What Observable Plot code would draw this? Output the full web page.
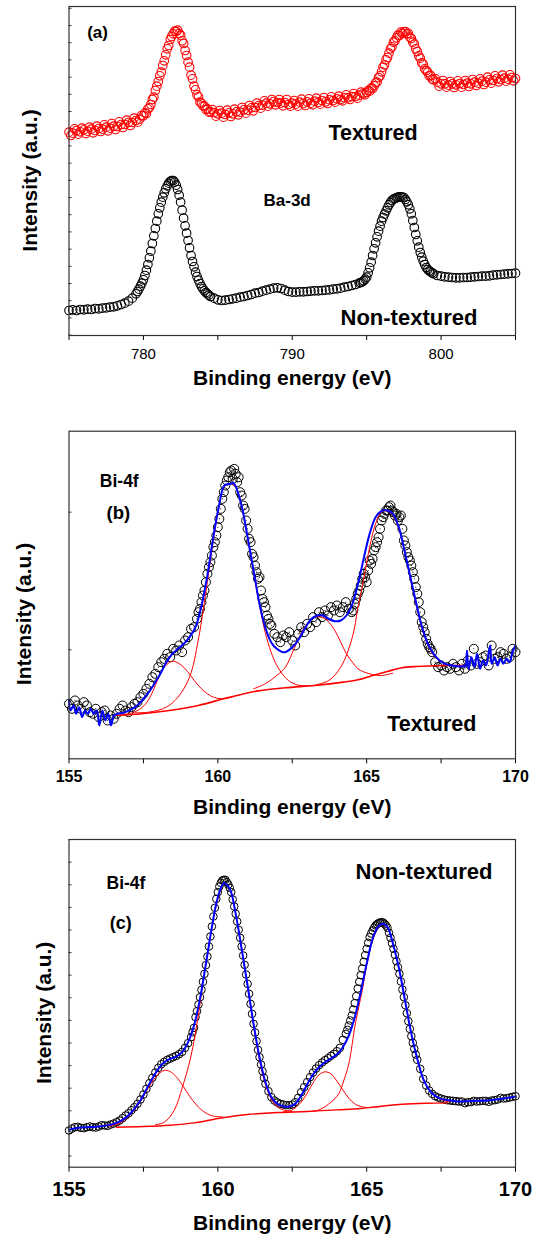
<!DOCTYPE html>
<html><head><meta charset="utf-8">
<script src="https://cdn.jsdelivr.net/npm/d3@7"></script>
<script src="https://cdn.jsdelivr.net/npm/@observablehq/plot@0.6"></script>
<style>
html,body{margin:0;padding:0;background:#fff;}
#chart{position:relative;width:536px;height:1238px;overflow:hidden;}
.panel{position:absolute;left:0;width:536px;}
.panel svg{overflow:visible;display:block;}
</style></head><body><div id="chart"></div>
<script>
// ================= Panel (a): Ba-3d  [energy (eV), intensity (a.u.)] =================
const aNonTextured = [
[775,75],[775.25,77],[775.5,75],[775.75,78],[776,77],[776.25,79],[776.5,78],[776.75,81],[777,80],[777.25,82],[777.5,83],[777.75,85],[778,86],[778.25,89],[778.5,93],[778.75,97],[779,103],[779.25,112],
[779.5,125],[779.6,132],[779.7,139],[779.8,148],[779.9,157],[780,167],[780.1,180],[780.2,196],[780.3,213],[780.4,233],[780.5,253],[780.6,276],[780.7,299],[780.8,321],[780.9,343],[781,365],[781.1,383],[781.2,400],[781.3,415],[781.4,428],[781.5,440],[781.6,449],[781.7,457],[781.8,462],[781.9,465],[782,465],[782.1,460],[782.2,451],[782.3,438],[782.4,421],[782.5,400],[782.6,376],[782.7,352],[782.8,329],[782.9,307],[783,285],[783.1,263],[783.2,240],[783.3,222],[783.4,206],[783.5,190],[783.6,177],[783.7,166],[783.8,156],[783.9,147],[784,140],[784.1,134],[784.2,129],[784.3,125],[784.4,121],[784.5,117],
[784.75,112],[785,107],[785.25,105],[785.5,106],[785.75,108],[786,110],[786.25,112],[786.5,115],[786.75,117],[787,120],[787.25,123],[787.5,127],[787.75,129],[788,133],[788.25,136],[788.5,139],[788.75,142],[789,143],[789.25,141],[789.5,136],[789.75,132],[790,130],[790.25,130],[790.5,131],[790.75,131],[791,132],[791.25,133],[791.5,134],[791.75,134],[792,135],[792.25,136],[792.5,137],[792.75,139],[793,140],[793.25,142],[793.5,145],[793.75,147],[794,150],[794.25,153],[794.5,157],
[794.6,159],[794.7,161],[794.8,164],[794.9,169],[795,175],[795.1,188],[795.2,203],[795.3,220],[795.4,240],[795.5,260],[795.6,278],[795.7,296],[795.8,313],[795.9,328],[796,343],[796.1,354],[796.2,364],[796.3,374],[796.4,383],[796.5,392],[796.6,399],[796.7,405],[796.8,409],[796.9,411],[797,413],[797.1,415],[797.2,416],[797.3,416],[797.4,415],[797.5,414],[797.6,408],[797.7,401],[797.8,392],[797.9,380],[798,365],[798.1,345],[798.2,324],[798.3,303],[798.4,284],[798.5,265],[798.6,249],[798.7,235],[798.8,223],[798.9,213],[799,204],[799.1,198],[799.2,194],[799.3,191],[799.4,188],[799.5,185],
[799.75,180],[800,178],[800.25,176],[800.5,175],[800.75,174],[801,173],[801.25,173],[801.5,174],[801.75,174],[802,175],[802.25,176],[802.5,177],[802.75,178],[803,178],[803.25,179],[803.5,181],[803.75,182],[804,183],[804.25,184],[804.5,185],[804.75,186],[805,187]];
const aTextured = [
[775,610],[775.125,600],[775.25,607],[775.375,620],[775.5,615],[775.625,604],[775.75,611],[775.875,622],[776,617],[776.125,606],[776.25,613],[776.375,625],[776.5,619],[776.625,608],[776.75,615],[776.875,628],[777,621],[777.125,612],[777.25,619],[777.375,632],[777.5,625],[777.625,614],[777.75,622],[777.875,636],[778,628],[778.125,618],[778.25,627],[778.375,641],[778.5,633],[778.625,624],[778.75,633],[778.875,646],[779,639],[779.125,630],[779.25,639],[779.375,652],[779.5,645],[779.625,640],[779.75,649],[779.875,660],
[780,659],[780.1,668],[780.2,666],[780.3,680],[780.4,683],[780.5,693],[780.6,708],[780.7,715],[780.8,735],[780.9,748],[781,762],[781.1,779],[781.2,790],[781.3,810],[781.4,824],[781.5,842],[781.6,860],[781.7,870],[781.8,888],[781.9,897],[782,905],[782.1,913],[782.2,912],[782.3,916],[782.4,906],[782.5,901],[782.6,884],[782.7,876],[782.8,855],[782.9,840],[783,820],[783.1,805],[783.2,781],[783.3,770],[783.4,748],[783.5,737],[783.6,722],[783.7,716],[783.8,700],[783.9,697],[784,689],[784.1,688],[784.2,678],[784.3,680],[784.4,670],[784.5,671],
[784.625,678],[784.75,669],[784.875,658],[785,665],[785.125,675],[785.25,667],[785.375,655],[785.5,663],[785.625,676],[785.75,668],[785.875,657],[786,665],[786.125,679],[786.25,671],[786.375,662],[786.5,670],[786.625,684],[786.75,677],[786.875,667],[787,676],[787.125,690],[787.25,683],[787.375,674],[787.5,684],[787.625,697],[787.75,690],[787.875,682],[788,691],[788.125,704],[788.25,697],[788.375,688],[788.5,695],[788.625,708],[788.75,702],[788.875,692],[789,699],[789.125,708],[789.25,697],[789.375,689],[789.5,699],[789.625,708],[789.75,693],[789.875,688],
[790,697],[790.125,705],[790.25,694],[790.375,688],[790.5,700],[790.625,709],[790.75,696],[790.875,690],[791,701],[791.125,710],[791.25,697],[791.375,692],[791.5,703],[791.625,712],[791.75,699],[791.875,694],[792,705],[792.125,714],[792.25,701],[792.375,696],[792.5,707],[792.625,716],[792.75,705],[792.875,700],[793,710],[793.125,718],[793.25,708],[793.375,704],[793.5,713],[793.625,722],[793.75,713],[793.875,708],[794,717],[794.125,726],[794.25,717],[794.375,712],[794.5,721],[794.625,730],[794.75,725],[794.875,722],
[795,729],[795.1,735],[795.2,733],[795.3,742],[795.4,741],[795.5,749],[795.6,758],[795.7,760],[795.8,774],[795.9,779],[796,791],[796.1,805],[796.2,812],[796.3,827],[796.4,834],[796.5,847],[796.6,860],[796.7,866],[796.8,880],[796.9,884],[797,893],[797.1,901],[797.2,900],[797.3,910],[797.4,906],[797.5,911],[797.6,912],[797.7,905],[797.8,906],[797.9,895],[798,891],[798.1,880],[798.2,874],[798.3,860],[798.4,852],[798.5,839],[798.6,832],[798.7,818],[798.8,814],[798.9,800],[799,795],[799.1,790],[799.2,779],[799.3,780],[799.4,769],[799.5,767],
[799.625,770],[799.75,760],[799.875,748],[800,755],[800.125,765],[800.25,755],[800.375,745],[800.5,751],[800.625,762],[800.75,755],[800.875,744],[801,752],[801.125,764],[801.25,756],[801.375,745],[801.5,753],[801.625,765],[801.75,757],[801.875,747],[802,755],[802.125,768],[802.25,760],[802.375,750],[802.5,757],[802.625,770],[802.75,763],[802.875,753],[803,760],[803.125,775],[803.25,767],[803.375,757],[803.5,765],[803.625,779],[803.75,771],[803.875,761],[804,768],[804.125,781],[804.25,772],[804.375,763],[804.5,769],[804.625,782],[804.75,774],[804.875,764],[805,771]];
const aTickMajor = [780, 790, 800];
const aTickMinor = [775, 785, 795, 805];

// ================= Panel (b): Bi-4f, textured =================
const bData = [
[155,165],[155.1,150],[155.2,175],[155.3,160],[155.4,150],[155.5,170],[155.6,160],[155.7,140],[155.8,135],[155.9,150],[156,125],[156.1,140],[156.2,145],[156.3,115],[156.4,130],[156.5,120],[156.6,135],[156.7,150],[156.8,160],[156.9,145],
[157,140],[157.1,155],[157.2,165],[157.3,170],[157.4,185],[157.5,195],[157.6,210],[157.7,225],[157.8,245],[157.9,255],[158,275],[158.1,290],[158.2,300],[158.3,315],[158.4,305],[158.5,330],[158.6,325],[158.7,340],[158.8,320],[158.9,355],[159,365],[159.1,390],[159.2,395],[159.3,420],
[159.35,440],[159.4,450],[159.45,470],[159.5,490],[159.55,505],[159.6,530],[159.65,555],[159.7,575],[159.75,590],[159.8,610],[159.85,635],[159.9,650],[159.95,670],[160,695],[160.05,720],[160.1,750],[160.15,780],[160.2,800],[160.25,820],[160.3,835],[160.35,845],[160.4,860],[160.45,865],[160.5,840],[160.55,870],[160.6,855],[160.65,830],[160.7,845],[160.75,800],[160.8,790],[160.85,760],[160.9,750],[160.95,715],[161,690],[161.05,660],[161.1,650],[161.15,615],[161.2,605],[161.25,580],[161.3,560],[161.35,540],[161.4,545],[161.45,505],[161.5,480],[161.55,470],[161.6,455],[161.65,430],[161.7,420],[161.75,405],[161.8,400],
[161.9,375],[162,365],[162.1,350],[162.2,370],[162.3,365],[162.4,380],[162.5,355],[162.6,340],[162.7,375],[162.8,395],[162.9,380],[163,405],[163.1,395],[163.2,425],[163.3,410],[163.4,440],[163.5,425],[163.6,445],[163.7,430],[163.8,455],[163.9,445],[164,460],[164.1,440],[164.2,455],[164.3,470],[164.4,450],[164.5,440],
[164.55,445],[164.6,465],[164.65,480],[164.7,495],[164.75,505],[164.8,520],[164.85,540],[164.9,555],[164.95,545],[165,530],[165.05,565],[165.1,595],[165.15,585],[165.2,600],[165.25,625],[165.3,635],[165.35,650],[165.4,665],[165.45,690],[165.5,715],[165.55,725],[165.6,735],[165.65,745],[165.7,745],[165.75,755],[165.8,760],[165.85,745],[165.9,740],[165.95,730],[166,735],[166.05,715],[166.1,725],[166.15,730],[166.2,690],[166.25,655],[166.3,640],[166.35,620],[166.4,605],[166.45,595],[166.5,580],[166.55,560],[166.6,540],[166.65,515],[166.7,495],[166.75,470],[166.8,440],[166.85,410],[166.9,395],[166.95,380],[167,360],[167.05,345],[167.1,335],[167.15,330],[167.2,320],
[167.3,290],[167.4,275],[167.5,280],[167.6,265],[167.7,275],[167.8,270],[167.9,285],[168,275],[168.1,265],[168.2,285],[168.3,270],[168.4,295],[168.5,280],[168.6,330],[168.7,285],[168.8,290],[168.9,305],[169,310],[169.1,280],[169.2,340],[169.3,300],[169.4,305],[169.5,320],[169.6,315],[169.7,300],[169.8,305],[169.9,330],[170,320]];
const bFit = [
[155,175],[155.05,145],[155.15,160],[155.24,135],[155.34,155],[155.44,125],[155.54,145],[155.63,135],[155.73,150],[155.83,135],[155.93,145],[156.02,100],[156.12,145],[156.22,115],[156.32,135],[156.41,100],[156.51,130],
[156.63,135],[156.9,140],[157.29,160],[157.68,200],[158.07,255],[158.27,290],[158.47,315],[158.66,330],[158.86,345],[159.05,365],[159.25,395],[159.44,455],[159.64,545],[159.83,655],[160.03,755],[160.22,820],[160.42,825],[160.53,827],[160.61,815],[160.81,755],[161,665],[161.2,565],[161.4,465],[161.59,395],[161.79,350],[161.98,330],[162.18,320],
[162.27,320],[162.56,340],[162.76,365],[162.95,395],[163.15,420],[163.34,430],[163.54,430],[163.73,420],[163.93,413],[164.13,415],[164.32,430],[164.52,465],[164.71,525],[164.91,605],[165.1,675],[165.3,725],[165.49,743],[165.69,745],[165.88,735],[166.08,695],[166.27,625],[166.47,545],[166.67,465],[166.86,395],[167.06,345],[167.25,315],[167.45,295],[167.64,285],[167.84,280],[168.03,278],[168.23,277],[168.28,280],
[168.32,277],[168.37,325],[168.42,270],[168.52,305],[168.62,275],[168.71,315],[168.81,270],[168.91,295],[169.01,280],[169.1,320],[169.15,340],[169.2,285],[169.3,305],[169.4,280],[169.49,300],[169.59,285],[169.7,300],[169.8,290],[169.9,320],[170,340]];
const bBackground = [[156.63,130],[157.44,135],[158.37,145],[159.34,160],[160.32,183],[161.3,203],[162.27,213],[163.25,220],[164.22,230],[164.71,237],[165.2,250],[165.69,262],[166.18,273],[166.67,277],[167.64,280],[168.28,280]];
const bPeak1 = [[156.63,130],[157.19,140],[157.53,160],[157.75,190],[157.97,235],[158.2,275],[158.48,293],[158.76,282],[158.98,262],[159.2,236],[159.43,212],[159.65,195],[159.88,184],[160.21,180],[160.5,186]];
const bPeak2 = [[157.2,138],[157.68,140],[158.27,155],[158.66,185],[159.05,245],[159.34,355],[159.64,525],[159.83,645],[160.03,750],[160.22,817],[160.42,825],[160.61,813],[160.81,753],[161,660],[161.2,560],[161.4,460],[161.59,380],[161.79,320],[161.98,280],[162.18,253],[162.37,235],[162.56,225],[162.76,220],[163.15,220]];
const bPeak3 = [[161.2,210],[161.59,225],[161.98,250],[162.27,275],[162.56,330],[162.76,370],[162.95,400],[163.25,425],[163.54,423],[163.73,410],[163.93,385],[164.13,350],[164.32,315],[164.52,290],[164.71,270],[165.1,255],[165.49,250],[165.88,257]];
const bPeak4 = [[163.3,222],[163.73,235],[164.13,275],[164.52,365],[164.71,455],[164.91,545],[165.1,635],[165.3,705],[165.49,740],[165.69,743],[165.88,730],[166.08,690],[166.27,625],[166.47,540],[166.67,460],[166.86,390],[167.06,340],[167.25,310],[167.45,293],[167.64,285],[167.84,280]];

// ================= Panel (c): Bi-4f, non-textured =================
const cData = [
[155,110],[155.1,116],[155.2,120],[155.3,121],[155.4,118],[155.5,117],[155.6,120],[155.7,122],[155.8,120],[155.9,119],[156,122],[156.1,126],[156.2,125],[156.3,124],[156.4,128],[156.5,131],[156.6,135],[156.7,140],[156.8,147],[156.9,155],
[157,162],[157.1,171],[157.2,180],[157.3,190],[157.4,203],[157.5,218],[157.6,235],[157.7,252],[157.8,268],[157.9,284],[158,298],[158.1,309],[158.2,316],[158.3,322],[158.4,326],[158.5,330],[158.6,334],[158.7,339],[158.8,346],[158.9,358],[159,372],[159.1,390],
[159.15,405],[159.2,418],[159.25,450],[159.3,468],[159.35,488],[159.4,510],[159.45,532],[159.5,556],[159.55,580],[159.6,606],[159.65,632],[159.7,662],[159.75,692],[159.8,722],[159.85,752],[159.9,778],[159.95,805],[160,825],[160.05,842],[160.1,853],[160.15,860],[160.2,862],[160.25,862],[160.3,855],[160.35,848],[160.4,838],[160.45,825],[160.5,803],[160.55,782],[160.6,760],[160.65,737],[160.7,712],[160.75,688],[160.8,662],[160.85,635],[160.9,607],[160.95,578],[161,550],[161.05,520],[161.1,490],[161.15,460],[161.2,430],[161.25,404],[161.3,378],[161.35,352],[161.4,330],[161.45,308],[161.5,288],[161.55,268],[161.6,250],
[161.7,228],[161.8,210],[161.9,200],[162,194],[162.1,190],[162.2,188],[162.3,186],[162.4,186],[162.5,188],[162.6,195],[162.7,208],[162.8,225],[162.9,240],[163,255],[163.1,270],[163.2,284],[163.3,296],[163.4,306],[163.5,314],[163.6,321],[163.7,327],[163.8,334],[163.9,340],[164,348],[164.1,358],[164.2,382],
[164.3,400],[164.35,412],[164.4,425],[164.45,440],[164.5,455],[164.55,473],[164.6,492],[164.65,513],[164.7,536],[164.75,556],[164.8,576],[164.85,596],[164.9,616],[164.95,636],[165,655],[165.05,673],[165.1,690],[165.15,701],[165.2,710],[165.25,718],[165.3,725],[165.35,729],[165.4,732],[165.45,734],[165.5,735],[165.55,734],[165.6,730],[165.65,725],[165.7,718],[165.75,703],[165.8,688],[165.85,672],[165.9,655],[165.95,637],[166,618],[166.05,600],[166.1,580],[166.15,557],[166.2,533],[166.25,510],[166.3,486],[166.35,462],[166.4,438],[166.45,415],[166.5,393],[166.55,373],[166.6,355],[166.65,338],[166.7,322],
[166.8,295],[166.9,265],[167,245],[167.1,230],[167.2,220],[167.3,213],[167.4,209],[167.5,206],[167.6,203],[167.7,201],[167.8,200],[167.9,199],[168,198],[168.1,197],[168.2,197],[168.3,192],[168.4,195],[168.5,195],[168.6,199],[168.7,197],[168.8,198],[168.9,199],[169,199],[169.1,196],[169.2,200],[169.3,201],[169.4,203],[169.5,208],[169.6,206],[169.7,207],[169.8,209],[169.9,211],[170,213]];
const cFit = [[155,112],[155.3,118],[155.6,120],[155.9,121],[156.2,124],[156.5,130],[156.8,142],[157.1,165],[157.4,200],[157.7,250],[158,295],[158.2,315],[158.4,325],[158.6,332],[158.8,345],[159,375],[159.2,425],[159.4,505],[159.6,610],[159.8,720],
[160,810],[160.2,852],[160.4,835],[160.6,760],[160.8,655],[161,545],[161.2,430],[161.4,330],[161.6,255],[161.8,210],[162,190],[162.2,183],[162.4,182],[162.6,190],[162.8,215],[163,248],[163.2,278],[163.4,300],[163.6,315],[163.8,326],
[164,338],[164.2,360],[164.4,395],[164.6,450],[164.8,525],[165,610],[165.2,685],[165.4,723],[165.55,730],[165.7,720],[165.9,665],[166.1,590],[166.3,495],[166.5,400],[166.7,325],[166.9,265],[167.1,232],[167.3,214],[167.5,205],[167.8,200],[168.1,197],[168.4,198],[168.7,199],[169,200],[169.3,203],[169.6,206],[170,212]];
const cBackground = [[156.6,120],[157.5,122],[158.4,126],[159.2,133],[160,146],[160.5,153],[161,158],[162,164],[163,167],[164,172],[164.8,176],[165.5,183],[166.2,189],[167,192],[167.7,193]];
const cPeak1 = [[156.35,123],[156.65,130],[156.85,141],[157.05,156],[157.25,178],[157.45,204],[157.65,235],[157.85,263],[158.05,283],[158.25,291],[158.45,284],[158.65,266],[158.85,241],[159.05,213],[159.25,190],[159.45,172],[159.65,160],[159.85,153],[160.15,151]];
const cPeak2 = [[157.9,127],[158.2,135],[158.53,170],[158.81,240],[159.09,330],[159.37,470],[159.54,580],[159.77,700],[159.99,800],[160.21,850],[160.42,830],[160.61,755],[160.81,650],[161,540],[161.2,425],[161.4,320],[161.59,250],[161.79,205],[161.98,182],[162.2,172],[162.5,167]];
const cPeak3 = [[162.2,166],[162.5,172],[162.8,195],[163,222],[163.2,253],[163.4,277],[163.6,286],[163.8,280],[164,258],[164.2,232],[164.4,207],[164.6,190],[164.9,180],[165.2,180],[165.5,183]];
const cPeak4 = [[163,167],[163.4,172],[163.8,195],[164.06,220],[164.25,265],[164.4,310],[164.62,430],[164.85,530],[165,605],[165.2,680],[165.4,720],[165.55,728],[165.7,718],[165.9,665],[166.1,590],[166.3,495],[166.5,400],[166.7,325],[166.9,265],[167.1,232],[167.3,214],[167.5,203],[167.8,195]];

const bcTickMajor = [155, 160, 165, 170];
const bcTickMinor = [157.5, 162.5, 167.5];
const xTitle = "Binding energy (eV)";
const yTitle = "Intensity (a.u.)";

// ================= drawing =================
const FONT = '"Liberation Sans", Arial, Helvetica, sans-serif';
const ML = 68.5, MR = 21, W = 536;
const frameW = W - ML - MR;
const RED = "#ff0000", BLUE = "#0000ff";
const X = d => d[0], Y = d => d[1];

function yTicksRule(ticks) {
  return Plot.ruleY(ticks, {y: d => d, insetRight: frameW - 3, stroke: "#333", strokeWidth: 1});
}
function label(txt, dx, dy, size) {
  return Plot.text([txt], {text: d => d, frameAnchor: "top-left", dx, dy, textAnchor: "start", lineAnchor: "middle",
    fontSize: size, fontWeight: "bold", fill: "#000"});
}
function xTitleMark(dy) {
  return Plot.text([xTitle], {text: d => d, frameAnchor: "bottom", textAnchor: "middle", lineAnchor: "top", dy, fontSize: 21, fontWeight: "bold", fill: "#000"});
}
function yTitleMark(dx, dy) {
  return Plot.text([yTitle], {text: d => d, frameAnchor: "left", textAnchor: "middle", lineAnchor: "middle", rotate: -90, dx, dy, fontSize: 21, fontWeight: "bold", fill: "#000"});
}
function lineOf(data, stroke, sw) {
  return Plot.line(data, {x: X, y: Y, stroke, strokeWidth: sw, curve: "catmull-rom"});
}
function addPanel(top, height, plot) {
  const div = document.createElement("div");
  div.className = "panel";
  div.style.top = top + "px";
  div.style.height = height + "px";
  div.appendChild(plot);
  document.getElementById("chart").appendChild(div);
}
function basePlot(height, mt, mb, xDomain, yDomain, marks) {
  return Plot.plot({
    width: W, height,
    marginLeft: ML, marginRight: MR, marginTop: mt, marginBottom: mb,
    x: {domain: xDomain},
    y: {domain: yDomain, axis: null},
    style: {fontFamily: FONT, background: "transparent", overflow: "visible", color: "#000"},
    marks
  });
}

// Panel (a)
const aYTicks = d3.range(20).map(k => 1.2 + 51.6 * k);
addPanel(0, 400, basePlot(400, 6, 65, [775, 805], [0, 987], [
  yTicksRule(aYTicks),
  Plot.axisX(aTickMinor, {tickSize: 5, tickFormat: () => "", label: null}),
  Plot.axisX(aTickMajor, {tickSize: 5, tickPadding: 7.6, fontSize: 15, label: null}),
  Plot.dot(aTextured, {x: X, y: Y, r: 4.3, stroke: RED, strokeWidth: 1.1, fill: "none"}),
  Plot.dot(aNonTextured, {x: X, y: Y, r: 4.3, stroke: "#000", strokeWidth: 1.1, fill: "none"}),
  Plot.frame({stroke: "#333", strokeWidth: 1.2}),
  label("(a)", 18.2, 25.7, 17),
  label("Ba-3d", 194.5, 194, 17),
  label("Textured", 259.5, 127, 21.5),
  label("Non-textured", 271.5, 311, 22),
  xTitleMark(35),
  yTitleMark(-38.5, 9.5)
]));

// Panel (b)
addPanel(400, 430, basePlot(430, 30.7, 71.7, [155, 170], [0, 983], [
  yTicksRule([327, 740]),
  Plot.axisX(bcTickMinor, {tickSize: 5, tickFormat: () => "", label: null}),
  Plot.axisX(bcTickMajor, {tickSize: 5, tickPadding: 6.7, fontSize: 16, fontWeight: "bold", label: null}),
  Plot.dot(bData, {x: X, y: Y, r: 4.5, stroke: "#000", strokeWidth: 1, fill: "none"}),
  Plot.dot(bData, {x: X, y: Y, r: 0.55, fill: "#000"}),
  lineOf(bBackground, RED, 1.6),
  lineOf(bPeak1, RED, 1),
  lineOf(bPeak2, RED, 1),
  lineOf(bPeak3, RED, 1),
  lineOf(bPeak4, RED, 1),
  lineOf(bFit, BLUE, 2),
  Plot.frame({stroke: "#333", strokeWidth: 1.2}),
  label("Bi-4f", 30.8, 50.3, 17.5),
  label("(b)", 37.5, 82.3, 18.5),
  label("Textured", 318.2, 292.5, 21.5),
  xTitleMark(40),
  yTitleMark(-45, 19)
]));

// Panel (c)
const cYTicks = d3.range(15).map(k => 982.8 - 67.8 * k);
addPanel(830, 408, basePlot(408, 9, 71.3, [155, 170], [0, 983], [
  yTicksRule(cYTicks),
  Plot.axisX(bcTickMinor, {tickSize: 5, tickFormat: () => "", label: null}),
  Plot.axisX(bcTickMajor, {tickSize: 5, tickPadding: 10, fontSize: 20, fontWeight: "bold", label: null}),
  Plot.dot(cData, {x: X, y: Y, r: 3.8, stroke: "#000", strokeWidth: 1, fill: "none"}),
  lineOf(cBackground, RED, 1.4),
  lineOf(cPeak1, RED, 1),
  lineOf(cPeak2, RED, 1),
  lineOf(cPeak3, RED, 1),
  lineOf(cPeak4, RED, 1),
  lineOf(cFit, BLUE, 2),
  Plot.frame({stroke: "#333", strokeWidth: 1.2}),
  label("Non-textured", 286.5, 32.7, 22),
  label("Bi-4f", 37.5, 44, 17.5),
  label("(c)", 40.8, 84, 18),
  xTitleMark(48.3),
  yTitleMark(-25, 9.5)
]));
</script></body></html>
